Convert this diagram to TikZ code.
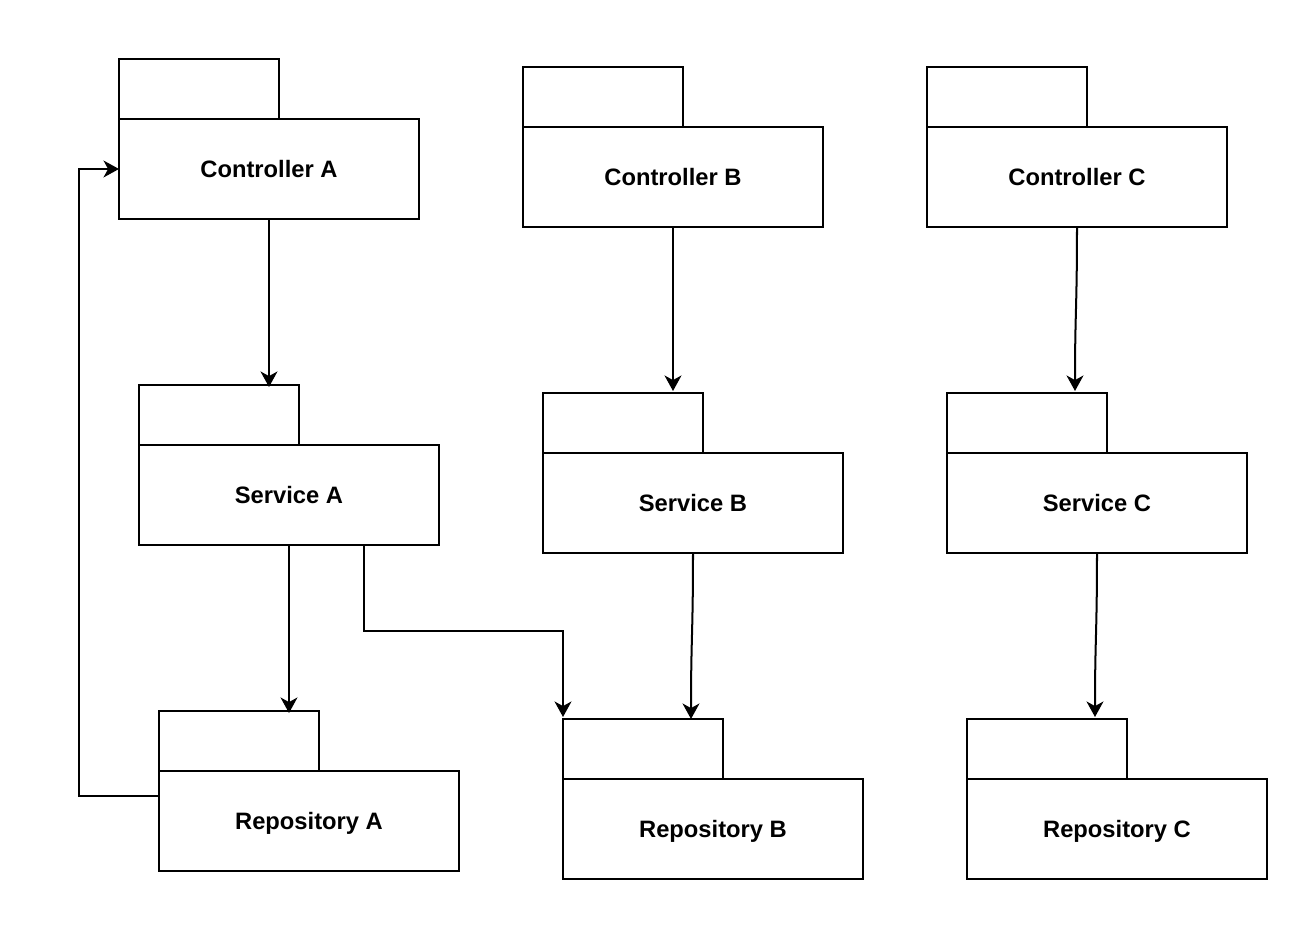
\documentclass[tikz,border=0pt]{standalone}
\usepackage{fontspec}
\setmainfont{Liberation Sans}
\usetikzlibrary{arrows.meta}
\begin{document}
\begin{tikzpicture}[x=0.01cm,y=-0.01cm,
  box/.style={draw=black,line width=0.57pt,fill=white},
  lbl/.style={font=\fontsize{6.75pt}{8pt}\selectfont\bfseries,inner sep=0pt,anchor=base},
  conn/.style={draw=black,line width=0.57pt,-{Stealth[length=4.4pt,width=4.8pt,inset=1.3pt]}}]
\useasboundingbox (0,0) rectangle (1308,934);
% package macro: tab + body
\newcommand{\pkg}[4]{%
  \draw[box] (#1,#2) rectangle ++(160,60);
  \draw[box] (#1,#2+60) rectangle ++(300,100);
  \node[lbl] (#3) at (#1+150,#2+118.5) {#4};
  \coordinate (#3-tab) at (#1,#2);
  \coordinate (#3-body) at (#1,#2+60);
}
\pkg{119}{59}{ca}{Controller A}
\pkg{523}{67}{cb}{Controller B}
\pkg{927}{67}{cc}{Controller C}
\pkg{139}{385}{sa}{Service A}
\pkg{543}{393}{sb}{Service B}
\pkg{947}{393}{sc}{Service C}
\pkg{159}{711}{ra}{Repository A}
\pkg{563}{719}{rb}{Repository B}
\pkg{967}{719}{rc}{Repository C}
% connectors
\draw[conn] ([shift={(150,160)}]ca-tab) -- ([shift={(130,2)}]sa-tab);
\draw[conn] ([shift={(150,160)}]cb-tab) -- ([shift={(130,-2)}]sb-tab);
\draw[conn] ([shift={(150,160)}]cc-tab) .. controls ([shift={(150,240)}]cc-tab) and ([shift={(128,-80)}]sc-tab) .. ([shift={(128,-2)}]sc-tab);
\draw[conn] ([shift={(150,160)}]sa-tab) -- ([shift={(130,2)}]ra-tab);
\draw[conn] ([shift={(225,160)}]sa-tab) -- ([shift={(225,246)}]sa-tab) -| ([shift={(0,-2)}]rb-tab);
\draw[conn] ([shift={(150,160)}]sb-tab) .. controls ([shift={(150,240)}]sb-tab) and ([shift={(128,-80)}]rb-tab) .. ([shift={(128,0)}]rb-tab);
\draw[conn] ([shift={(150,160)}]sc-tab) .. controls ([shift={(150,240)}]sc-tab) and ([shift={(128,-80)}]rc-tab) .. ([shift={(128,-2)}]rc-tab);
\draw[conn] ([shift={(0,85)}]ra-tab) -- ++(-80,0) |- ([shift={(0,50)}]ca-body);
\end{tikzpicture}
\end{document}
